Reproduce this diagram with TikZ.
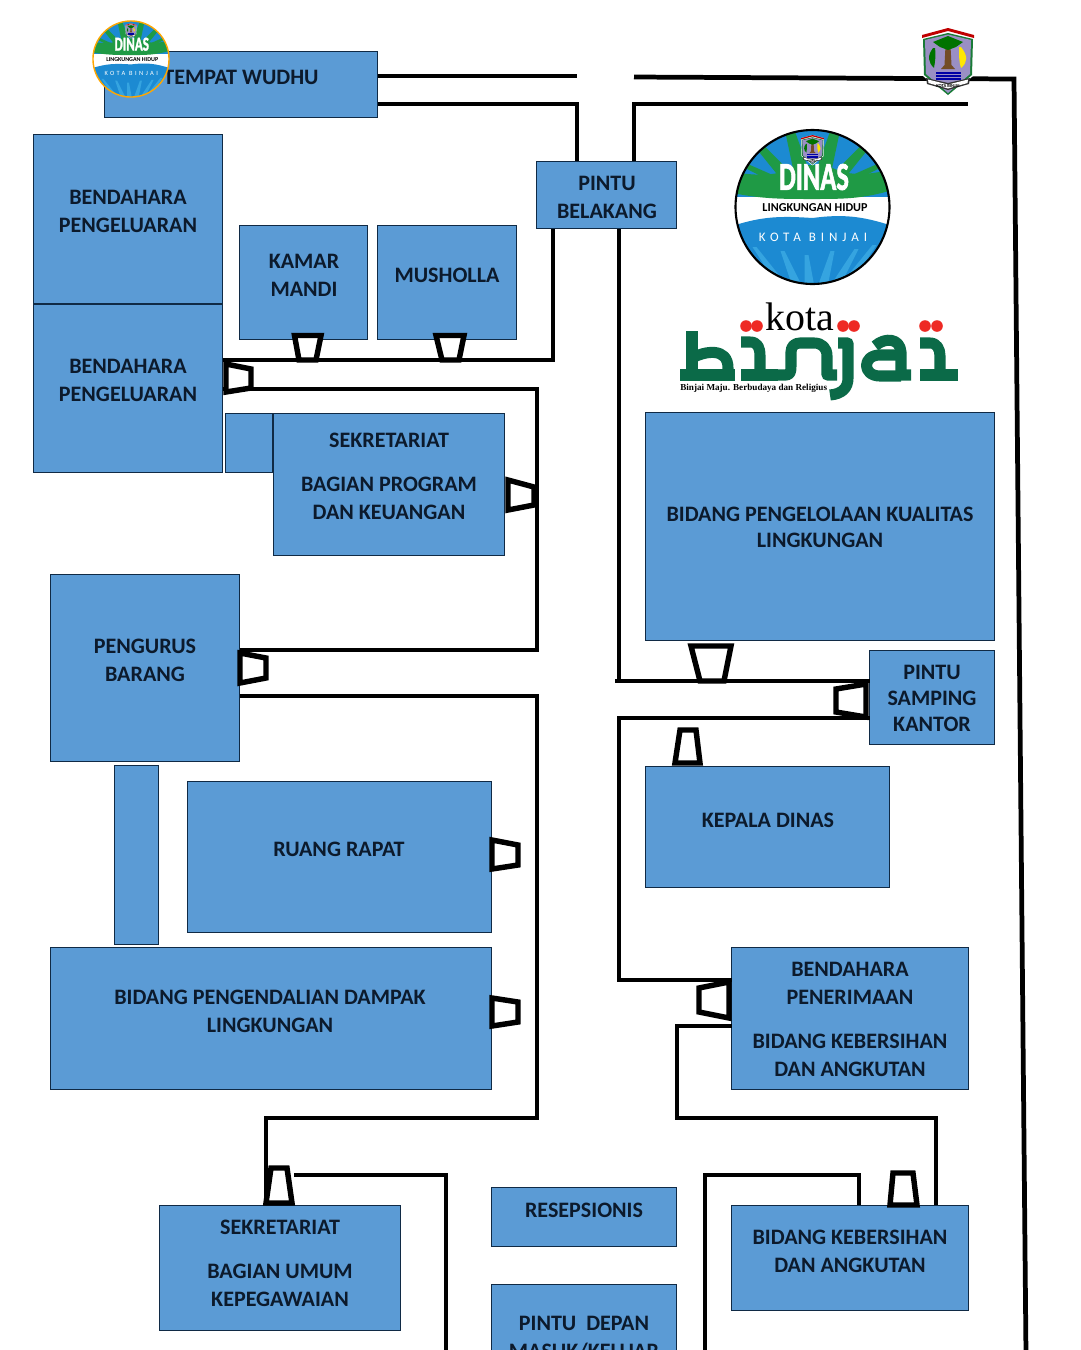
\documentclass[tikz,border=0pt]{standalone}
\usepackage{fontspec}
\setmainfont{Carlito}
\newfontfamily\kotaserif{Liberation Serif}
\newfontfamily\kotaspaced[LetterSpace=38]{Carlito}
\newfontfamily\dinasfont[BoldFeatures={FakeBold=2}]{Carlito}

\definecolor{roomblue}{HTML}{5B9BD5}
\definecolor{roomline}{HTML}{102A45}
\definecolor{roomtext}{HTML}{0C1A2C}
\definecolor{logogreen}{HTML}{1F9A45}
\definecolor{logoblue}{HTML}{1C8AD2}
\definecolor{logolight}{HTML}{35A4E0}
\definecolor{binjaigreen}{HTML}{0B6A48}
\definecolor{binjaired}{HTML}{EE2A24}
\definecolor{shieldpurple}{HTML}{9A8FC4}

\tikzset{
  emblem/.pic={
      \fill[white] (-26,-27) -- (0,-34) -- (26,-27) -- (25,14) -- (0,35) -- (-25,14) -- cycle;
      \fill[logogreen!80!black] (-25,-23) -- (0,-29) -- (25,-23) -- (24,13) -- (0,33) -- (-24,13) -- cycle;
      \fill[shieldpurple] (-23,-22) -- (0,-27.5) -- (23,-22) -- (22,12) -- (0,31) -- (-22,12) -- cycle;
      \fill[red!75!black] (-26,-27) -- (0,-34) -- (26,-27) -- (26,-24) -- (0,-31) -- (-26,-24) -- cycle;
      \fill[brown!60!black] (-2.5,-16) -- (2.5,-16) -- (3.5,3) -- (7,7) -- (-7,7) -- (-3.5,3) -- cycle;
      \fill[green!45!black] (-15,-20) -- (0,-26) -- (15,-20) -- (8,-15) -- (0,-12) -- (-8,-15) -- cycle;
      \fill[green!45!black] (-15,-14) .. controls (-21,-6) and (-20,0) .. (-14,6) .. controls (-13,0) and (-12,-6) .. (-13,-14) -- cycle;
      \fill[yellow!90!orange] (13,-15) .. controls (20,-6) and (20,0) .. (13,6) .. controls (11,0) and (11,-6) .. (11,-15) -- cycle;
      \foreach \wy in {10,13,16}
      \fill[blue!65!black] (-12,\wy) rectangle (13,\wy+1.6);
      \fill[black!80] (-22,16) -- (0,21) -- (22,16) -- (21,22) -- (0,28) -- (-21,22) -- cycle;
      \fill[white] (-20,17.5) -- (0,22.5) -- (20,17.5) -- (19.5,21) -- (0,26.5) -- (-19.5,21) -- cycle;
      \node[font=\bfseries\fontsize{2.6}{3}\selectfont, inner sep=0pt, transform shape] (emblemtext) at (0,24) {KOTA BINJAI};
    },
  dinaslogo/.pic={
      \begin{scope}
        \clip (0,0) circle (77);
        \fill[white] (-80,-80) rectangle (80,80);
        \fill[logoblue] (-80,-80) rectangle (80,-10);
        % Green leaves
        \fill[logogreen] (-80,-35) .. controls (-50,-30) and (-30,-32) .. (-15,-42) -- (15,-42) .. controls (30,-32) and (50,-30) .. (80,-38)
          -- (80,-17) .. controls (50,-8) and (30,-8) .. (0,-8) .. controls (-30,-8) and (-50,-8) .. (-80,-14) -- cycle;
        \foreach \rx/\ry in {-72/-44,-54/-62,-22/-74,22/-74,54/-62,72/-44}
        \fill[logogreen] ({\rx*.3-9},-20) -- ({\rx-5},\ry) -- ({\rx+5},\ry) -- ({\rx*.3+9},-20) -- cycle;
        % Water
        \fill[logoblue] (-80,19) .. controls (-50,9) and (-30,9) .. (0,11) .. controls (30,7) and (50,9) .. (80,19) -- (80,80) -- (-80,80) -- cycle;
        \foreach \rx/\ry in {-58/40,-30/44,-6/48,20/44,44/42,62/38}
        \fill[logolight] ({\rx*.5-5},80) -- ({\rx-2},\ry) -- ({\rx+2},\ry) -- ({\rx*.5+5},80) -- cycle;
      \end{scope}
      \draw[logoring] (0,0) circle (77);
      \pic[scale=.44, transform shape] (crest) at (0,-57) {emblem};
      \node[font=\dinasfont\bfseries\fontsize{22.5}{23}\selectfont, text=white, xscale=.67, transform shape, inner sep=0pt] (dinasword) at (1.5,-30) {DINAS};
      \node[font=\bfseries\fontsize{6.9}{7}\selectfont, text=black, transform shape, inner sep=0pt] (lingkungan) at (2.5,1) {LINGKUNGAN HIDUP};
      \node[font=\kotaspaced\fontsize{7.4}{8}\selectfont, text=white, transform shape, inner sep=0pt] (kotabinjai) at (0.5,30) {KOTA BINJAI};
    },
  logoring/.style={draw=black, line width=1.2pt},
}

\begin{document}
\begin{tikzpicture}[
    x=0.02cm, y=-0.02cm,
    room/.style={draw=roomline, fill=roomblue, line width=.8pt, inner sep=0pt, outer sep=0pt},
    roomlabel/.style={text=roomtext, align=center, inner sep=0pt, font=\bfseries\fontsize{12.55}{16}\selectfont},
    wall/.style={draw=black, line width=2.7pt, line join=miter},
    door/.style={draw=black, fill=white, line width=3.1pt, line join=miter},
    binjai/.style={draw=binjaigreen, line width=6.3pt, line join=round},
  ]

  \clip[use as bounding box] (0,0) rectangle (1080,1350);

  % Rooms without a label
  \foreach \room/\xa/\ya/\xb/\yb in {filler/225/413/273/473, corridor/114/765/159/945}{
      \node[room, minimum width={(\xb-\xa-1)*0.02cm}, minimum height={(\yb-\ya-1)*0.02cm}] (\room) at ({(\xa+\xb)/2},{(\ya+\yb)/2}) {};
    }

  % Rooms, with the place of the label
  \foreach \room/\xa/\ya/\xb/\yb/\tx/\ty/\txt in {
      wudhu/104/51/378/118/241/77/{TEMPAT WUDHU},
      bendaharaa/33/134/223/304/128/211.5/{BENDAHARA\\PENGELUARAN},
      bendaharab/33/304/223/473/128/380.5/{BENDAHARA\\PENGELUARAN},
      kamar/239/225/368/340/304/275/{KAMAR\\MANDI},
      musholla/377/225/517/340/447/275/{MUSHOLLA},
      belakang/536/161/677/229/607/197/{PINTU\\BELAKANG},
      program/273/413/505/556/389/476.5/{SEKRETARIAT\\[9pt]BAGIAN PROGRAM\\DAN KEUANGAN},
      pengurus/50/574/240/762/145/660.5/{PENGURUS\\BARANG},
      rapat/187/781/492/933/339/849/{RUANG RAPAT},
      dampak/50/947/492/1090/270/1011/{BIDANG PENGENDALIAN DAMPAK\\LINGKUNGAN},
      umum/159/1205/401/1331/280/1263/{SEKRETARIAT\\[9pt]BAGIAN UMUM\\KEPEGAWAIAN},
      resepsionis/491/1187/677/1247/584/1210/{RESEPSIONIS},
      depan/491/1284/677/1380/584/1338/{PINTU\ \ DEPAN\\MASUK/KELUAR},
      kualitas/645/412/995/641/820/527.5/{BIDANG PENGELOLAAN KUALITAS\\[-1pt]LINGKUNGAN},
      samping/869/650/995/745/932/698.5/{PINTU\\[-1pt]SAMPING\\[-1pt]KANTOR},
      kepala/645/766/890/888/768/820/{KEPALA DINAS},
      penerimaan/731/947/969/1090/850/1019/{BENDAHARA\\PENERIMAAN\\[9pt]BIDANG KEBERSIHAN\\DAN ANGKUTAN},
      kebersihan/731/1205/969/1311/850/1251/{BIDANG KEBERSIHAN\\DAN ANGKUTAN}%
    }{
      \node[room, minimum width={(\xb-\xa-1)*0.02cm}, minimum height={(\yb-\ya-1)*0.02cm}] (\room) at ({(\xa+\xb)/2},{(\ya+\yb)/2}) {};
      \node[roomlabel] (\room label) at (\tx,\ty) {\txt};
    }

  % Walls
  \draw[wall] (wudhu.east |- 0,76) -- (577,76);
  \draw[wall] (wudhu.east |- 0,104) -- (577,104) -- (577,161);
  \draw[wall] (634,77) -- (1014,79) -- (1026,1355);
  \draw[wall] (634,161) -- (634,104) -- (968,104);
  \draw[wall] (553,229) -- (553,360) -- (bendaharab.east |- 0,360);
  \draw[wall] (bendaharab.east |- 0,389) -- (537,389) -- (537,650) -- (pengurus.east |- 0,650);
  \draw[wall] (pengurus.east |- 0,696) -- (537,696) -- (537,1118) -- (266,1118) -- (266,1205);
  \draw[wall] (619,229) -- (619,681);
  \draw[wall] (615,681) -- (samping.west |- 0,681);
  \draw[wall] (samping.west |- 0,718) -- (619,718) -- (619,980) -- (penerimaan.west |- 0,980);
  \draw[wall] (penerimaan.west |- 0,1026) -- (677,1026) -- (677,1118) -- (936,1118) -- (936,1205);
  \draw[wall] (294,1175) -- (446,1175) -- (446,1355);
  \draw[wall] (859,1205) -- (859,1175) -- (705,1175) -- (705,1355);

  % Doors
  \draw[door] (294.5,335.5) -- (321,335.5) -- (316,360) -- (299,360) -- cycle;
  \draw[door] (436,335.5) -- (464,335.5) -- (459,360) -- (442,360) -- cycle;
  \draw[door] (226,364) -- (251,369) -- (251,388) -- (226,392) -- cycle;
  \draw[door] (508,480) -- (534,487) -- (534,505) -- (508,510) -- cycle;
  \draw[door] (240,653) -- (266,658) -- (266,678) -- (240,683) -- cycle;
  \draw[door] (691,646) -- (731,646) -- (724,681) -- (700,681) -- cycle;
  \draw[door] (866,684) -- (836,689) -- (836,712) -- (866,717) -- cycle;
  \draw[door] (680,730) -- (696,730) -- (700,763) -- (675,763) -- cycle;
  \draw[door] (492,840) -- (518,845) -- (518,865) -- (492,869) -- cycle;
  \draw[door] (492,998) -- (518,1002) -- (518,1022) -- (492,1026) -- cycle;
  \draw[door] (729,982) -- (699,988) -- (699,1012) -- (729,1018) -- cycle;
  \draw[door] (271,1168) -- (287,1168) -- (292,1203) -- (266,1203) -- cycle;
  \draw[door] (893,1173) -- (913,1173) -- (917,1205) -- (890,1205) -- cycle;

  % Logos
  \pic[scale=.494, logoring/.style={draw=orange!70!yellow, line width=.8pt}] (smalllogo) at (131,59) {dinaslogo};
  \pic (biglogo) at (812.5,207) {dinaslogo};
  \pic (citycrest) at (948,62) {emblem};

  % Kota Binjai wordmark
  \node[font=\kotaserif\fontsize{22.7}{24}\selectfont, anchor=base, inner sep=0pt] (kotaword) at (800,330) {kota};
  \foreach \dx in {746,757,843,854,925,937}
  \fill[binjaired] (\dx,326) circle (5.8);
  \draw[binjai] (692,331) -- (692,375);
  \draw[binjai] (680,375) -- (735,375);
  \draw[binjai] (692,358) .. controls (705,351) and (728,347) .. (728,368) -- (728,375);
  \draw[binjai] (741,342) -- (750,342) .. controls (758,342) and (760,348) .. (760,356) -- (760,375);
  \draw[binjai] (741,375) -- (778,375);
  \draw[binjai] (778,375) -- (786,375) .. controls (790,375) and (791,372) .. (791,366) -- (791,352) .. controls (791,346) and (795,343) .. (800,343) -- (814,343) .. controls (822,343) and (827,348) .. (827,356) -- (827,375) -- (837,375);
  \draw[binjai] (838,343) -- (848,343) -- (848,378) .. controls (848,388) and (842,394) .. (830,395);
  \draw[binjai] (875,346) .. controls (885,337) and (900,338) .. (901,352) -- (901,375) -- (911,375);
  \draw[binjai] (901,355) -- (880,355) .. controls (862,355) and (862,376) .. (880,376) -- (901,376);
  \draw[binjai] (920,343) -- (930,343) .. controls (937,343) and (940,349) .. (940,356) -- (940,375);
  \draw[binjai] (920,375) -- (958,375);
  \node[font=\kotaserif\bfseries\fontsize{5.2}{6}\selectfont, anchor=base west, inner sep=0pt] (motto) at (680,390) {Binjai Maju. Berbudaya dan Religius};

\end{tikzpicture}
\end{document}
